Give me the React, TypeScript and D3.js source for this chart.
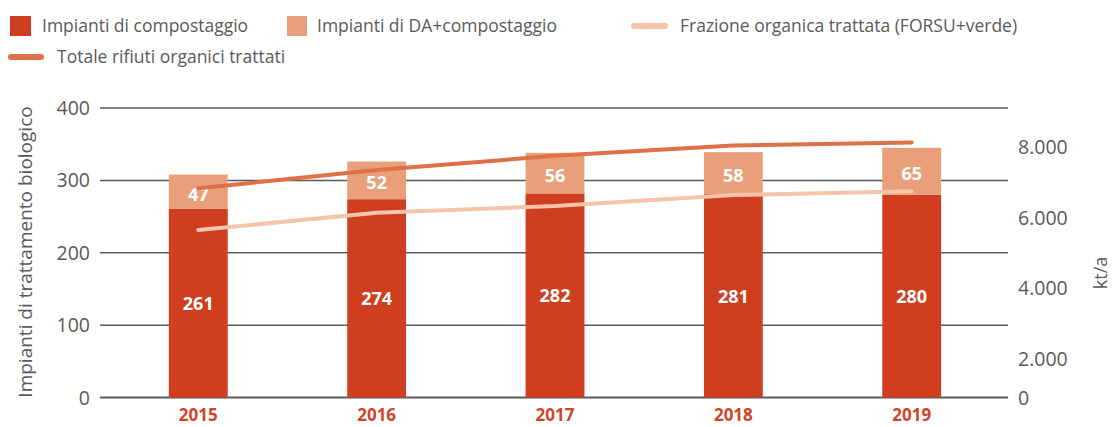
import React from "react";
import * as d3 from "d3";

// data
const years = ["2015", "2016", "2017", "2018", "2019"];
const compostaggio = [261, 274, 282, 281, 280];
const daCompostaggio = [47, 52, 56, 58, 65];
const frazioneOrganica = [5650, 6140, 6330, 6640, 6750];
const totaleRifiuti = [6830, 7350, 7750, 8040, 8130];
const leftTicks = [0, 100, 200, 300, 400];
const rightTicks = [0, 2000, 4000, 6000, 8000];

const W = 1112;
const H = 427;
const FONT = "'Open Sans', sans-serif";
const C_COMP = "#CF3E1E";
const C_DA = "#E9A07A";
const C_TOT = "#E07048";
const C_FRAZ = "#F4C5A9";
const GREY = "#5a5a5a";

const App = () => {
  const x = d3.scaleBand().domain(years).range([110, 1000]).paddingInner(0.67).paddingOuter(0.33);
  const y = d3.scaleLinear().domain([0, 400]).range([397.5, 108]);
  // right axis labels are not evenly spaced near zero in the original
  const yR = d3.scaleLinear().domain([0, 2000, 8000]).range([398, 359, 147]);
  const cx = (yr: string) => (x(yr) as number) + x.bandwidth() / 2;

  const line = d3
    .line<number>()
    .x((_, i) => cx(years[i]))
    .y((d) => yR(d))
    .curve(d3.curveLinear);

  const fmt = (v: number) => d3.format(",")(v).replace(/,/g, ".");

  return (
    <svg width={W} height={H} style={{ position: "absolute", left: 0, top: 0, background: "#fff" }} fontFamily={FONT}>
      {/* legend */}
      <rect x={10} y={16} width={21} height={20} fill={C_COMP} />
      <text x={42} y={32} fontSize={17.5} fill={GREY}>Impianti di compostaggio</text>
      <rect x={287} y={16} width={20} height={20} fill={C_DA} />
      <text x={317} y={32} fontSize={17.5} fill={GREY}>Impianti di DA+compostaggio</text>
      <line x1={634} x2={665} y1={26} y2={26} stroke={C_FRAZ} strokeWidth={6} strokeLinecap="round" />
      <text x={680} y={32} fontSize={17.5} fill={GREY}>Frazione organica trattata (FORSU+verde)</text>
      <line x1={11} x2={41} y1={57} y2={57} stroke={C_TOT} strokeWidth={6} strokeLinecap="round" />
      <text x={57} y={63} fontSize={17.5} fill={GREY}>Totale rifiuti organici trattati</text>

      {/* grid + left axis */}
      {leftTicks.map((t) => (
        <g key={t}>
          <line x1={100} x2={1008} y1={y(t)} y2={y(t)} stroke={GREY} strokeWidth={t === 0 ? 2 : 1.5} />
          <text x={90} y={y(t) + 7} textAnchor="end" fontSize={19.5} fill={GREY}>{t}</text>
        </g>
      ))}
      <text
        transform={`translate(32,252) rotate(-90)`}
        textAnchor="middle"
        fontSize={19}
        fill={GREY}
      >
        Impianti di trattamento biologico
      </text>

      {/* right axis */}
      {rightTicks.map((t) => (
        <text key={t} x={1018} y={yR(t) + 7} fontSize={19.5} fill={GREY}>{fmt(t)}</text>
      ))}
      <text transform={`translate(1107,273) rotate(-90)`} textAnchor="middle" fontSize={18} fill={GREY}>kt/a</text>

      {/* bars */}
      {years.map((yr, i) => {
        const base = compostaggio[i];
        const top = base + daCompostaggio[i];
        return (
          <g key={yr}>
            <rect x={x(yr)} y={y(base)} width={x.bandwidth()} height={y(0) - y(base)} fill={C_COMP} />
            <rect x={x(yr)} y={y(top)} width={x.bandwidth()} height={y(base) - y(top)} fill={C_DA} />
            <text x={cx(yr)} y={(y(0) + y(base)) / 2 + 7} textAnchor="middle" fontSize={18} fontWeight="bold" fill="#fff">{base}</text>
            <text x={cx(yr)} y={(y(base) + y(top)) / 2 + 9} textAnchor="middle" fontSize={18} fontWeight="bold" fill="#fff">{daCompostaggio[i]}</text>
            <text x={cx(yr)} y={421} textAnchor="middle" fontSize={17} fontWeight="bold" fill="#D0442A">{yr}</text>
          </g>
        );
      })}

      {/* lines */}
      <path d={line(frazioneOrganica) || ""} fill="none" stroke={C_FRAZ} strokeWidth={4} strokeLinecap="round" />
      <path d={line(totaleRifiuti) || ""} fill="none" stroke={C_TOT} strokeWidth={4} strokeLinecap="round" />
    </svg>
  );
};

export default App;
